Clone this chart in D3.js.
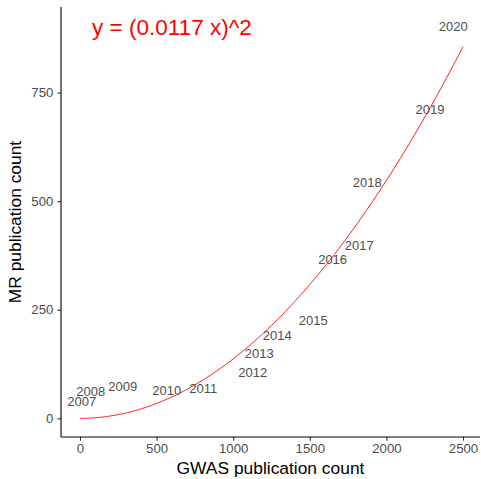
<!DOCTYPE html>
<html>
<head>
<meta charset="utf-8">
<script src="https://cdn.jsdelivr.net/npm/d3@7"></script>
<style>
body { margin: 0; background: #fff; }
text { font-family: "Liberation Sans", Arial, sans-serif; }
</style>
</head>
<body>
<svg id="chart" width="481" height="479"></svg>
<script>
// year labels placed at (GWAS count, MR count)
let years = [2007, 2008, 2009, 2010, 2011, 2012, 2013, 2014, 2015, 2016, 2017, 2018, 2019, 2020];
let gwas = [11, 70, 279, 566, 805, 1127, 1170, 1288, 1523, 1649, 1823, 1875, 2284, 2436];
let mr = [38, 61, 74, 65, 68, 105, 150, 190, 226, 366, 397, 542, 710, 902];

let xTicks = [0, 500, 1000, 1500, 2000, 2500];
let yTicks = [0, 250, 500, 750];

let coef = 0.0117;   // fitted curve y = (coef x)^2
let fitMax = 2500;

let svg = d3.select('#chart');
let pLeft = 61, pRight = 480, pTop = 7, pBottom = 437;

let x = d3.scaleLinear().domain([-124, 2611]).range([pLeft, pRight]);
let y = d3.scaleLinear().domain([-43, 947]).range([pBottom, pTop]);

// fit curve
let fit = d3.range(0, fitMax + 1, 10).map(function(v) { return [v, Math.pow(coef * v, 2)]; });
svg.append('path')
  .datum(fit)
  .attr('fill', 'none')
  .attr('stroke', 'red')
  .attr('stroke-width', 0.9)
  .attr('d', d3.line().x(function(d) { return x(d[0]); }).y(function(d) { return y(d[1]); }));

// year labels
svg.append('g')
  .selectAll('text')
  .data(years)
  .enter()
  .append('text')
  .attr('x', function(d, i) { return x(gwas[i]); })
  .attr('y', function(d, i) { return y(mr[i]); })
  .attr('text-anchor', 'middle')
  .attr('dy', '0.35em')
  .attr('font-size', 13)
  .attr('fill', '#4d4d4d')
  .text(function(d) { return d; });

// equation
svg.append('text')
  .attr('x', x(600))
  .attr('y', y(900))
  .attr('dy', '0.35em')
  .attr('text-anchor', 'middle')
  .attr('font-size', 22.5)
  .attr('fill', 'red')
  .text('y = (' + coef + ' x)^2');

// axes
let xAxis = svg.append('g')
  .attr('transform', 'translate(0,' + pBottom + ')')
  .call(d3.axisBottom(x).tickValues(xTicks).tickSize(3.7).tickPadding(3).tickFormat(d3.format('d')));
let yAxis = svg.append('g')
  .attr('transform', 'translate(' + pLeft + ',0)')
  .call(d3.axisLeft(y).tickValues(yTicks).tickSize(3.7).tickPadding(4).tickFormat(d3.format('d')));

[xAxis, yAxis].forEach(function(a) {
  a.select('.domain').remove();
  a.selectAll('line').attr('stroke', '#333').attr('stroke-width', 1.07);
  a.selectAll('text').attr('fill', '#4d4d4d').attr('font-size', 13.2)
    .style('font-family', '"Liberation Sans", Arial, sans-serif');
});

svg.append('line').attr('x1', pLeft).attr('x2', pRight).attr('y1', pBottom).attr('y2', pBottom)
  .attr('stroke', '#000').attr('stroke-width', 1.1);
svg.append('line').attr('x1', pLeft).attr('x2', pLeft).attr('y1', pTop).attr('y2', pBottom)
  .attr('stroke', '#000').attr('stroke-width', 1.1);

// axis titles
svg.append('text')
  .attr('x', (pLeft + pRight) / 2)
  .attr('y', 474)
  .attr('text-anchor', 'middle')
  .attr('font-size', 17.4)
  .text('GWAS publication count');
svg.append('text')
  .attr('transform', 'translate(21,' + (pTop + pBottom) / 2 + ') rotate(-90)')
  .attr('text-anchor', 'middle')
  .attr('font-size', 17.4)
  .text('MR publication count');
</script>
</body>
</html>
